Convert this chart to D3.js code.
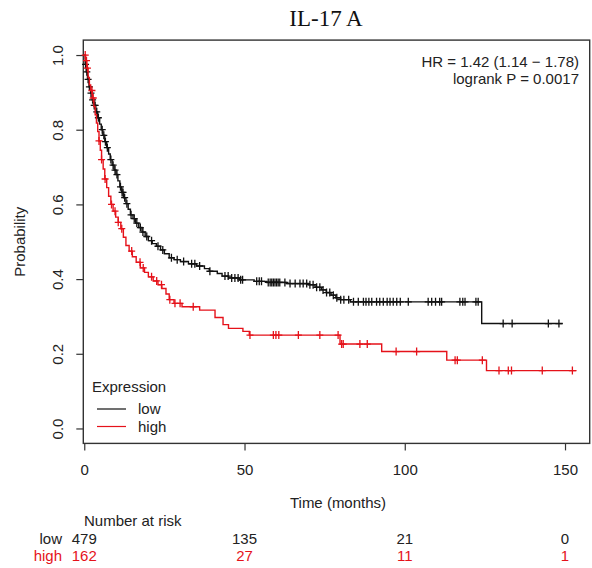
<!DOCTYPE html>
<html>
<head>
<meta charset="utf-8">
<script src="https://cdn.jsdelivr.net/npm/d3@7"></script>
<style>
body { margin: 0; background: #fff; }
svg { display: block; font-family: "Liberation Sans", Arial, sans-serif; }
</style>
</head>
<body>
<svg id="chart" width="592" height="568"></svg>
<script>
// survival steps (time in months, probability)
var lowTimes = [0, 0.3, 0.6, 1.0, 1.5, 2.0, 2.5, 3.0, 3.6, 4.2, 4.8, 5.3, 5.8, 6.4, 7.0, 7.6, 8.1, 8.7, 9.3, 9.9,
    10.5, 11.1, 11.7, 12.3, 13.0, 13.7, 14.4, 15.2, 16.0, 17.0, 18.0, 19.0, 20.0, 21.2, 22.5, 23.8, 25.0, 26.5,
    28.0, 30.0, 32.5, 35.0, 37.5, 39.0, 41.5, 43.0, 45.0, 48.5, 53.0, 57.0, 63.0, 70.0, 72.0, 74.0, 75.5, 77.0,
    78.5, 80.0, 83.0, 124.0];
var lowSurv = [1.0, 0.975, 0.955, 0.935, 0.915, 0.898, 0.88, 0.865, 0.848, 0.832, 0.815, 0.8, 0.785, 0.768, 0.752,
    0.735, 0.72, 0.705, 0.692, 0.68, 0.663, 0.647, 0.632, 0.618, 0.602, 0.587, 0.572, 0.562, 0.55, 0.538, 0.526,
    0.514, 0.503, 0.495, 0.488, 0.478, 0.468, 0.457, 0.452, 0.447, 0.441, 0.435, 0.428, 0.421, 0.415, 0.408,
    0.403, 0.398, 0.394, 0.391, 0.388, 0.385, 0.378, 0.371, 0.364, 0.357, 0.35, 0.345, 0.339, 0.281];
var lowEnd = 149.3;
var lowCensor = [0.4, 0.8, 1.2, 1.6, 2.1, 2.6, 3.1, 3.4, 3.9, 4.4, 5.6, 6.1, 6.6, 7.2, 8.3, 9.0, 9.6, 10.2, 11.3,
    11.8, 12.1, 12.6, 13.3, 14.6, 15.6, 16.4, 17.5, 18.3, 19.5, 21.0, 23.0, 24.5, 27.2, 29.0, 31.0, 33.5, 34.5,
    36.0, 39.2, 43.9, 44.9, 46.0, 47.0, 48.0, 48.8, 49.4, 53.8, 54.6, 55.3, 57.4, 58.0, 58.5, 59.0, 59.5, 60.0,
    60.5, 61.0, 62.6, 64.2, 65.8, 67.3, 68.3, 69.4, 70.4, 71.4, 72.5, 73.5, 74.5, 75.6, 76.6, 77.7, 78.8, 80.0,
    81.0, 82.5, 84.0, 85.5, 87.1, 87.9, 88.8, 89.7, 91.2, 92.2, 93.3, 94.5, 95.4, 96.4, 97.5, 98.6, 101.1, 107.3,
    108.4, 109.6, 110.9, 111.5, 117.2, 118.1, 118.8, 122.2, 122.9, 130.7, 133.5, 144.8, 148.1];

var highTimes = [0, 0.4, 0.8, 1.2, 1.6, 2.0, 2.5, 3.0, 3.4, 3.8, 4.2, 4.6, 5.0, 5.4, 5.9, 6.4, 7.0, 7.6, 8.3, 9.0,
    9.8, 10.6, 11.4, 12.2, 13.0, 14.0, 15.0, 16.2, 17.5, 18.8, 20.0, 21.5, 23.0, 24.2, 25.5, 26.5, 28.0, 30.5,
    36.0, 40.8, 43.3, 45.0, 49.5, 51.5, 79.8, 92.8, 113.1, 125.5];
var highSurv = [1.0, 0.985, 0.965, 0.94, 0.92, 0.905, 0.885, 0.862, 0.84, 0.818, 0.795, 0.77, 0.745, 0.72, 0.695,
    0.668, 0.645, 0.622, 0.6, 0.582, 0.566, 0.552, 0.535, 0.512, 0.49, 0.475, 0.46, 0.445, 0.43, 0.418, 0.406,
    0.395, 0.385, 0.375, 0.36, 0.345, 0.335, 0.326, 0.317, 0.297, 0.278, 0.268, 0.26, 0.25, 0.226, 0.206, 0.183,
    0.155];
var highEnd = 153.6;
var highCensor = [0.3, 0.7, 1.0, 2.4, 2.8, 4.6, 5.4, 6.5, 8.5, 9.6, 10.6, 11.7, 14.8, 17.4, 18.4, 21.0, 22.6, 24.1,
    26.7, 28.3, 29.9, 34.0, 51.7, 59.0, 59.8, 60.7, 66.8, 73.5, 79.2, 80.3, 80.8, 86.0, 88.3, 97.3, 103.7, 115.7,
    116.4, 124.2, 129.4, 132.3, 133.3, 142.9, 152.3];

var groups = ["low", "high"];
var groupColors = ["#111111", "#e5121a"];
var xTicks = [0, 50, 100, 150];
var yTicks = [0, 0.2, 0.4, 0.6, 0.8, 1.0];
var riskLow = [479, 135, 21, 0];
var riskHigh = [162, 27, 11, 1];

var fs = "15px";
var svg = d3.select("#chart");

var x = d3.scaleLinear().domain([-0.3, 157.7]).range([83.3, 589.7]);
var y = d3.scaleLinear().domain([-0.04, 1.04]).range([443.4, 40.1]);

// title
svg.append("text")
    .attr("x", 326).attr("y", 26)
    .attr("text-anchor", "middle")
    .style("font-family", "'Liberation Serif', 'Times New Roman', serif")
    .style("font-size", "23px")
    .attr("fill", "#111")
    .text("IL-17 A");

// axes
var xAxis = d3.axisBottom(x).tickValues(xTicks).tickSize(7).tickPadding(14).tickFormat(d3.format("d"));
var gx = svg.append("g")
    .attr("transform", "translate(0," + y.range()[0] + ")")
    .call(xAxis);
gx.select(".domain").remove();

var yAxis = d3.axisLeft(y).tickValues(yTicks).tickSize(7).tickFormat(d3.format(".1f"));
var gy = svg.append("g")
    .attr("transform", "translate(" + x.range()[0] + ",0)")
    .call(yAxis);
gy.select(".domain").remove();
gy.selectAll(".tick text")
    .attr("x", 0).attr("y", -20).attr("dy", 0)
    .attr("transform", "rotate(-90)")
    .attr("text-anchor", "middle");

svg.selectAll(".tick line").attr("stroke", "#333").attr("stroke-width", 1.2);
svg.selectAll(".tick text")
    .style("font-family", "'Liberation Sans', Arial, sans-serif")
    .style("font-size", fs)
    .attr("fill", "#222");

// frame
svg.append("rect")
    .attr("x", x.range()[0]).attr("y", y.range()[1])
    .attr("width", x.range()[1] - x.range()[0])
    .attr("height", y.range()[0] - y.range()[1])
    .attr("fill", "none").attr("stroke", "#333").attr("stroke-width", 1.4);

// axis titles
svg.append("text")
    .attr("transform", "translate(25," + ((y.range()[0] + y.range()[1]) / 2) + ") rotate(-90)")
    .attr("text-anchor", "middle")
    .style("font-size", fs).attr("fill", "#222")
    .text("Probability");

svg.append("text")
    .attr("x", 338).attr("y", 508)
    .attr("text-anchor", "middle")
    .style("font-size", fs).attr("fill", "#222")
    .text("Time (months)");

// curves
var series = [
    { times: lowTimes, surv: lowSurv, end: lowEnd, censor: lowCensor },
    { times: highTimes, surv: highSurv, end: highEnd, censor: highCensor }
];

var line = d3.line()
    .x(function (d) { return x(d[0]); })
    .y(function (d) { return y(d[1]); })
    .curve(d3.curveStepAfter);

series.forEach(function (s, i) {
    var pts = s.times.map(function (t, k) { return [t, s.surv[k]]; });
    pts.push([s.end, s.surv[s.surv.length - 1]]);

    svg.append("path")
        .datum(pts)
        .attr("d", line)
        .attr("fill", "none")
        .attr("stroke", groupColors[i])
        .attr("stroke-width", 1.4);

    var survAt = function (t) {
        return s.surv[d3.bisectRight(s.times, t) - 1];
    };

    svg.append("g").selectAll("path")
        .data(s.censor)
        .join("path")
        .attr("d", function (t) {
            var cx = x(t), cy = y(survAt(t));
            return "M" + (cx - 3.5) + "," + cy + "H" + (cx + 3.5) + "M" + cx + "," + (cy - 4) + "V" + (cy + 4);
        })
        .attr("stroke", groupColors[i])
        .attr("stroke-width", 1.3)
        .attr("fill", "none");
});

// HR annotation
var hr = svg.append("text")
    .attr("text-anchor", "end")
    .style("font-size", fs).attr("fill", "#222");
hr.append("tspan").attr("x", 579).attr("y", 67).text("HR = 1.42 (1.14 \u2212 1.78)");
hr.append("tspan").attr("x", 579).attr("y", 84).text("logrank P = 0.0017");

// legend
var legend = svg.append("g");
legend.append("text")
    .attr("x", 92).attr("y", 392)
    .style("font-size", fs).attr("fill", "#222")
    .text("Expression");
groups.forEach(function (g, i) {
    var ly = 409 + i * 17.5;
    legend.append("line")
        .attr("x1", 97).attr("x2", 126)
        .attr("y1", ly).attr("y2", ly)
        .attr("stroke", groupColors[i]).attr("stroke-width", 1.2);
    legend.append("text")
        .attr("x", 138).attr("y", ly + 5)
        .style("font-size", fs).attr("fill", "#222")
        .text(g);
});

// number at risk table
svg.append("text")
    .attr("x", 84).attr("y", 526)
    .style("font-size", fs).attr("fill", "#222")
    .text("Number at risk");

[riskLow, riskHigh].forEach(function (row, i) {
    var ry = 544 + i * 17;
    var col = i === 0 ? "#222" : groupColors[1];
    svg.append("text")
        .attr("x", 62).attr("y", ry)
        .attr("text-anchor", "end")
        .style("font-size", fs).attr("fill", col)
        .text(groups[i]);
    svg.append("g").selectAll("text")
        .data(row)
        .join("text")
        .attr("x", function (d, k) { return x(xTicks[k]); })
        .attr("y", ry)
        .attr("text-anchor", "middle")
        .style("font-size", fs).attr("fill", col)
        .text(function (d) { return d; });
});
</script>
</body>
</html>
